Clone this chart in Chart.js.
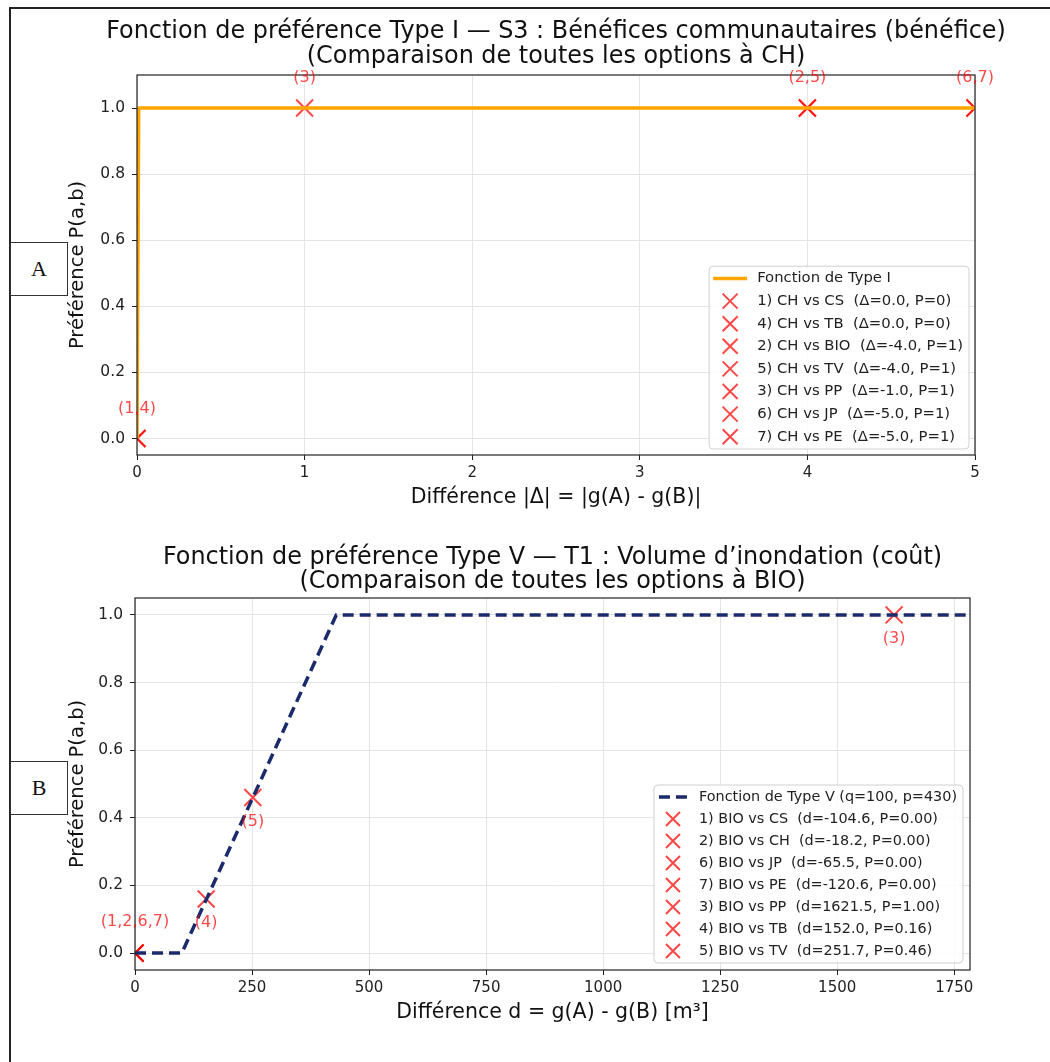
<!DOCTYPE html>
<html>
<head>
<meta charset="utf-8">
<script src="https://cdn.jsdelivr.net/npm/chart.js@4.4.0/dist/chart.umd.min.js"></script>
<style>
body{margin:0;background:#fff;width:1050px;height:1062px;position:relative;overflow:hidden;font-family:"DejaVu Sans";}
.frame{position:absolute;left:9px;top:7px;width:1100px;height:1100px;border-top:2px solid #222;border-left:2px solid #222;}
.chartbox{position:absolute;left:0;width:1050px;}
.tag{position:absolute;left:10px;width:56px;height:52px;border:1px solid #333;background:#fff;font-family:"Liberation Serif";font-size:22px;text-align:center;line-height:52px;color:#111;}
</style>
</head>
<body>
<div class="frame"></div>
<div class="chartbox" style="top:0;height:530px"><canvas id="chartA"></canvas></div>
<div class="chartbox" style="top:530px;height:532px"><canvas id="chartB"></canvas></div>
<div class="tag" style="top:242px">A</div>
<div class="tag" style="top:761px">B</div>
<script>
const tickY = [0, 0.2, 0.4, 0.6, 0.8, 1.0];

// graph A : Type I, S3 (benefice)
const titleA = ['Fonction de préférence Type I — S3 : Bénéfices communautaires (bénéfice)', '(Comparaison de toutes les options à CH)'];
const lineALabel = 'Fonction de Type I';
const lineAx = [0, 0.01, 5];
const lineAy = [0, 1, 1];
const cmpA = ['1) CH vs CS  (Δ=0.0, P=0)', '4) CH vs TB  (Δ=0.0, P=0)', '2) CH vs BIO  (Δ=-4.0, P=1)', '5) CH vs TV  (Δ=-4.0, P=1)', '3) CH vs PP  (Δ=-1.0, P=1)', '6) CH vs JP  (Δ=-5.0, P=1)', '7) CH vs PE  (Δ=-5.0, P=1)'];
const cmpAx = [0, 0, 4, 4, 1, 5, 5];
const cmpAy = [0, 0, 1, 1, 1, 1, 1];
const noteA = ['(1,4)', '(3)', '(2,5)', '(6,7)'];
const noteAx = [0, 1, 4, 5];
const noteAy = [0, 1, 1, 1];
const tickAx = [0, 1, 2, 3, 4, 5];

// graph B : Type V, T1 (cout)
const titleB = ['Fonction de préférence Type V — T1 : Volume d’inondation (coût)', '(Comparaison de toutes les options à BIO)'];
const lineBLabel = 'Fonction de Type V (q=100, p=430)';
const lineBx = [0, 100, 430, 1783.65];
const lineBy = [0, 0, 1, 1];
const cmpB = ['1) BIO vs CS  (d=-104.6, P=0.00)', '2) BIO vs CH  (d=-18.2, P=0.00)', '6) BIO vs JP  (d=-65.5, P=0.00)', '7) BIO vs PE  (d=-120.6, P=0.00)', '3) BIO vs PP  (d=1621.5, P=1.00)', '4) BIO vs TB  (d=152.0, P=0.16)', '5) BIO vs TV  (d=251.7, P=0.46)'];
const cmpBx = [0, 0, 0, 0, 1621.5, 152.0, 251.7];
const cmpBy = [0, 0, 0, 0, 1, 0.16, 0.46];
const noteB = ['(1,2,6,7)', '(3)', '(4)', '(5)'];
const noteBx = [0, 1621.5, 152.0, 251.7];
const noteBy = [0, 1, 0.16, 0.46];
const tickBx = [0, 250, 500, 750, 1000, 1250, 1500, 1750];

const FONT = 'DejaVu Sans';
const RED = 'rgba(255,0,0,0.72)';
Chart.defaults.font.family = FONT;

const extras = {//title, box of the axes, red notes and the legend inside the plot
    id: 'extras',
    afterDraw(chart, args, o) {//title drawn without the max width squeeze of the title plugin
        const ctx = chart.ctx, a = chart.chartArea;
        ctx.save();
        ctx.fillStyle = '#111'; ctx.font = o.titleSize + 'px "' + FONT + '"';
        ctx.textAlign = 'center'; ctx.textBaseline = 'middle';
        o.title.forEach((t, i) => ctx.fillText(t, (a.left + a.right) / 2, o.titleY[i]));
        ctx.restore();
    },
    afterDatasetsDraw(chart, args, o) {
        const ctx = chart.ctx, a = chart.chartArea;
        const xs = chart.scales.x, ys = chart.scales.y;
        ctx.save();
        ctx.strokeStyle = '#222'; ctx.lineWidth = 1.2;
        ctx.strokeRect(a.left, a.top, a.right - a.left, a.bottom - a.top);
        // notes
        ctx.fillStyle = RED; ctx.font = o.noteSize + 'px "' + FONT + '"';
        ctx.textAlign = 'center'; ctx.textBaseline = 'middle';
        o.notes.forEach((t, i) => {
            const px = xs.getPixelForValue(o.notesX[i]), py = ys.getPixelForValue(o.notesY[i]);
            ctx.fillText(t, px, py + o.noteShift(o.notesY[i]));
        });
        // legend
        const L = o.legend, sets = chart.data.datasets;
        ctx.font = L.size + 'px "' + FONT + '"';
        const tw = Math.max(...sets.map(d => ctx.measureText(d.label).width));
        const w = L.textX + tw + L.padR, h = sets.length * L.rowH + L.padY * 2;
        const x0 = a.right - L.margin - w, y0 = a.bottom - L.margin - h;
        ctx.fillStyle = 'rgba(255,255,255,0.85)'; ctx.strokeStyle = '#d0d0d0'; ctx.lineWidth = 1;
        ctx.beginPath(); ctx.roundRect(x0, y0, w, h, 4); ctx.fill(); ctx.stroke();
        sets.forEach((d, i) => {
            const cy = y0 + L.padY + L.rowH * (i + 0.5);
            ctx.save();
            if (d.showLine) {
                ctx.strokeStyle = d.borderColor; ctx.lineWidth = d.borderWidth;
                ctx.setLineDash(d.borderDash || []);
                ctx.beginPath(); ctx.moveTo(x0 + L.h0, cy); ctx.lineTo(x0 + L.h1, cy); ctx.stroke();
            } else {
                const m = L.mark, cx = x0 + (L.h0 + L.h1) / 2;
                ctx.strokeStyle = RED; ctx.lineWidth = 2;
                ctx.beginPath();
                ctx.moveTo(cx - m, cy - m); ctx.lineTo(cx + m, cy + m);
                ctx.moveTo(cx - m, cy + m); ctx.lineTo(cx + m, cy - m);
                ctx.stroke();
            }
            ctx.restore();
            ctx.fillStyle = '#222'; ctx.textAlign = 'left'; ctx.textBaseline = 'middle';
            ctx.fillText(d.label, x0 + L.textX, cy);
        });
        ctx.restore();
    }
};

function buildSets(lineLabel, lx, ly, color, dash, labels, px, py) {//the function line then one set per comparison
    const sets = [{
        label: lineLabel, showLine: true, pointRadius: 0, borderColor: color, borderWidth: 3.5,
        borderDash: dash, data: lx.map((x, i) => ({x: x, y: ly[i]})),
    }];
    labels.forEach((l, i) => sets.push({
        label: l, data: [{x: px[i], y: py[i]}], pointStyle: 'crossRot', pointRadius: 12,
        borderColor: RED, borderWidth: 2, backgroundColor: RED, clip: 0,
    }));
    return sets;
}

function makeChart(id, c) {
    const grid = {color: '#e4e4e4', tickColor: '#222', tickLength: 5, lineWidth: 1};
    return new Chart(document.getElementById(id), {
        type: 'scatter',
        data: {datasets: c.sets},
        plugins: [extras],
        options: {
            responsive: true, maintainAspectRatio: false, animation: false,
            layout: {padding: c.pad},
            plugins: {
                legend: {display: false}, tooltip: {enabled: false}, title: {display: false},
                extras: c.extras,
            },
            scales: {
                x: {
                    type: 'linear', min: c.xMin, max: c.xMax, grid: grid, border: {display: false},
                    afterBuildTicks: s => { s.ticks = c.xTicks.map(v => ({value: v})); },
                    afterFit: s => { s.height = c.xH; },
                    ticks: {color: '#222', font: {size: 15}, padding: 4, maxRotation: 0, autoSkip: false, callback: v => String(v)},
                    title: {display: true, text: c.xTitle, color: '#111', font: {size: 20.5}, padding: 0},
                },
                y: {
                    type: 'linear', min: -0.05, max: c.yMax, grid: grid, border: {display: false},
                    afterBuildTicks: s => { s.ticks = tickY.map(v => ({value: v})); },
                    afterFit: s => { s.width = c.yW; },
                    ticks: {color: '#222', font: {size: 15.5}, padding: 7, callback: v => v.toFixed(1)},
                    title: {display: true, text: 'Préférence P(a,b)', color: '#111', font: {size: 19.5}, padding: 0},
                }
            }
        }
    });
}

makeChart('chartA', {
    sets: buildSets(lineALabel, lineAx, lineAy, '#ffa500', [], cmpA, cmpAx, cmpAy),
    pad: {left: 66, right: 75, top: 75, bottom: 20.5},
    xMin: 0, xMax: 5, yMax: 1.1, xTicks: tickAx, xH: 54.5, yW: 71,
    xTitle: 'Différence |Δ| = |g(A) - g(B)|',
    extras: {title: titleA, titleSize: 23.9, titleY: [31.5, 56.5],
        notes: noteA, notesX: noteAx, notesY: noteAy, noteSize: 16, noteShift: y => -30,
        legend: {size: 14.8, rowH: 22.6, padY: 1, textX: 48, padR: 6, margin: 6, h0: 4, h1: 38, mark: 7.5}},
});

makeChart('chartB', {
    sets: buildSets(lineBLabel, lineBx, lineBy, '#1b2a6b', [11, 6], cmpB, cmpBx, cmpBy),
    pad: {left: 66, right: 80, top: 68, bottom: 37.5},
    xMin: 0, xMax: 1783.65, yMax: 1.05, xTicks: tickBx, xH: 54.5, yW: 69,
    xTitle: 'Différence d = g(A) - g(B) [m³]',
    extras: {title: titleB, titleSize: 23.9, titleY: [27.5, 52],
        notes: noteB, notesX: noteBx, notesY: noteBy, noteSize: 16, noteShift: y => (y > 0 ? 24 : -31),
        legend: {size: 14.4, rowH: 22, padY: 1, textX: 45, padR: 6, margin: 7, h0: 5, h1: 33, mark: 7}},
});
</script>
</body>
</html>
